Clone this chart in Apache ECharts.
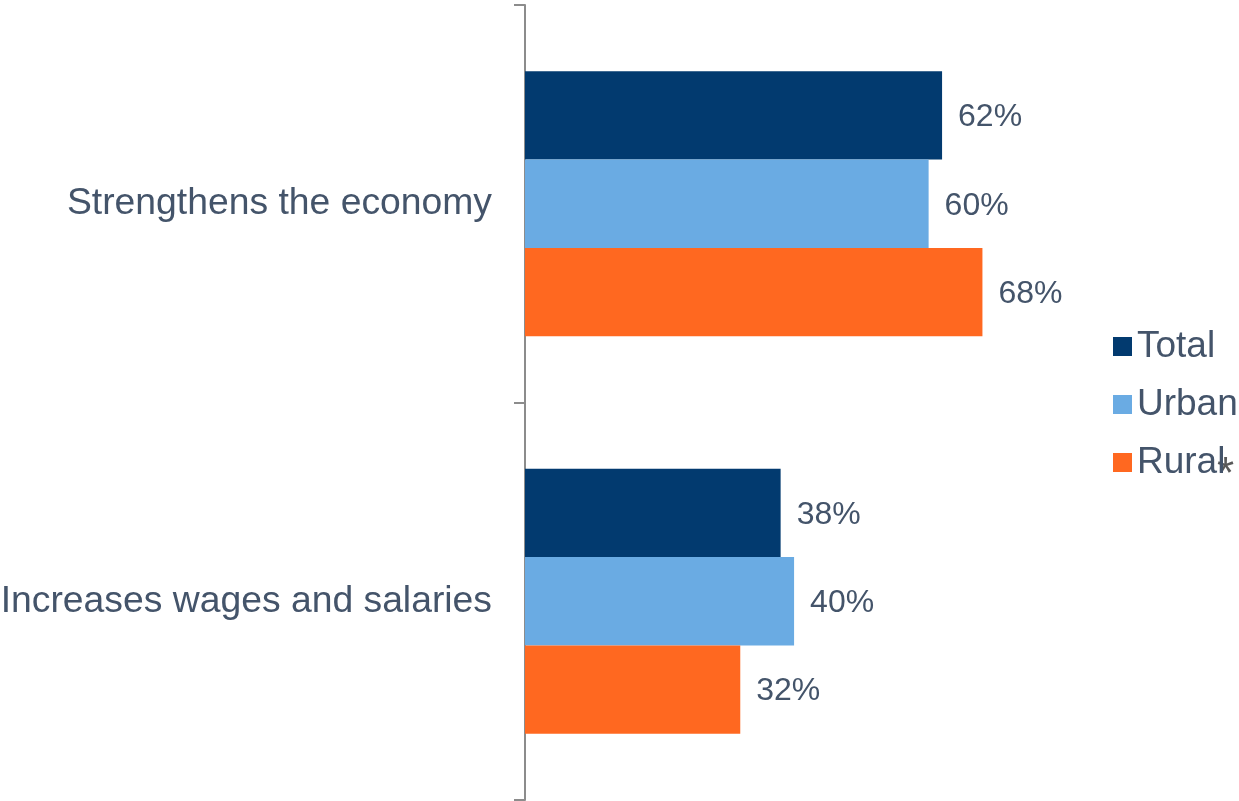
<!DOCTYPE html>
<html>
<head>
<meta charset="utf-8">
<style>
  html, body { margin: 0; padding: 0; background: #fff; }
  #chart { width: 1239px; height: 801px; }
</style>
<script src="https://cdn.jsdelivr.net/npm/echarts@6/dist/echarts.min.js"></script>
</head>
<body>
<div id="chart"></div>
<script>
// categories, top to bottom
const categories = ['Strengthens the economy', 'Increases wages and salaries']
const seriesNames = ['Total', 'Urban', 'Rural']
const totalValues = [62, 38]
const urbanValues = [60, 40]
const ruralValues = [68, 32]

const colors = ['#023a6f', '#6aabe3', '#ff6820']
const textColor = '#44546a'
const font = '"Liberation Sans", Arial, sans-serif'

const valueSets = [totalValues, urbanValues, ruralValues]

let seriesData = seriesNames.map((name, i) => ({
  name: name,
  type: 'bar',
  data: valueSets[i],
  barGap: '0%',
  barCategoryGap: '33.3%',
  itemStyle: { color: colors[i] },
  label: {
    show: true,
    position: 'right',
    distance: 16,
    offset: [0, 2],
    formatter: '{c}%',
    color: textColor,
    fontFamily: font,
    fontSize: 32
  }
}))

let myChart = echarts.init(document.getElementById('chart'), null, { renderer: 'canvas' })
myChart.setOption({
  animation: false,
  backgroundColor: '#fff',
  grid: { left: 525, top: 5, bottom: 1, width: 672.7, containLabel: false, outerBoundsMode: 'none' },
  xAxis: {
    type: 'value',
    min: 0,
    max: 100,
    show: false
  },
  yAxis: {
    type: 'category',
    inverse: true,
    data: categories,
    axisLine: { show: true, lineStyle: { color: '#8c8c8c', width: 2 } },
    axisTick: { show: true, length: 11, lineStyle: { color: '#8c8c8c', width: 2 } },
    axisLabel: {
      margin: 33,
      color: textColor,
      fontFamily: font,
      fontSize: 37.3
    }
  },
  legend: {
    orient: 'vertical',
    left: 1108,
    top: 323,
    icon: 'rect',
    itemWidth: 19,
    itemHeight: 19,
    itemGap: 21,
    data: seriesNames,
    textStyle: { color: textColor, fontFamily: font, fontSize: 37 }
  },
  graphic: [{
    type: 'text',
    left: 1217,
    top: 454,
    style: { text: '*', fill: '#595959', font: '44px "Liberation Sans", Arial, sans-serif' }
  }],
  series: seriesData
})
</script>
</body>
</html>
